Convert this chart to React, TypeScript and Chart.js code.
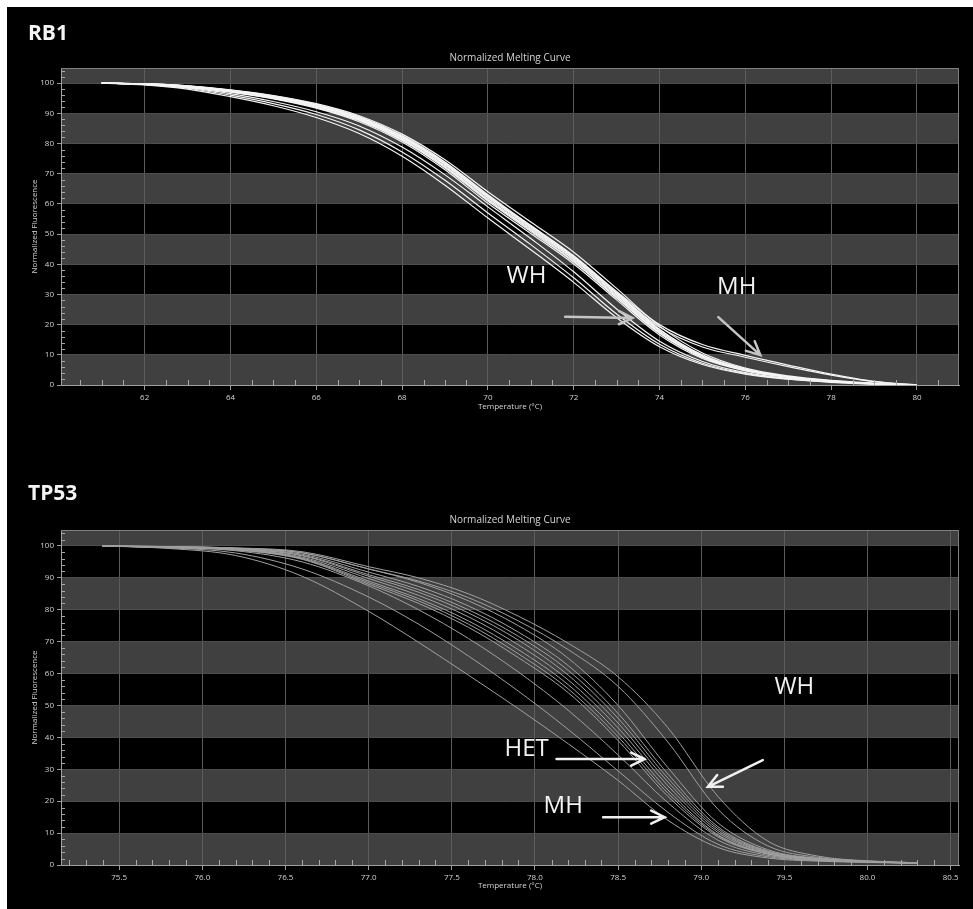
import React, { useEffect, useRef } from 'react';
import { Chart, registerables } from 'chart.js';

Chart.register(...registerables);

// ---------------- DATA ----------------
// RB1 panel
const rb1Temps = [61, 62, 63, 64, 65, 66, 67, 68, 69, 70, 71, 72, 73, 74, 75, 76, 77, 78, 79, 80];
const rb1Bundle1 = [100, 99.7, 98.8, 97.3, 95.2, 92.3, 88.0, 81.5, 72.5, 61.5, 51.5, 41.5, 29.5, 17.5, 9.4, 5.0, 2.7, 1.3, 0.5, 0];
const rb1Bundle2 = [100, 99.8, 99.0, 97.6, 95.6, 92.8, 88.6, 82.3, 73.6, 62.8, 52.8, 42.8, 30.8, 18.5, 10.0, 5.3, 2.8, 1.4, 0.5, 0];
const rb1Bundle3 = [100, 99.6, 98.6, 97.0, 94.8, 91.7, 87.2, 80.5, 71.3, 60.2, 50.2, 40.1, 28.2, 16.6, 8.8, 4.7, 2.5, 1.2, 0.4, 0];
const rb1Bundle4 = [100, 99.8, 99.1, 97.8, 95.9, 93.2, 89.2, 83.1, 74.6, 64.0, 54.0, 44.0, 32.0, 19.5, 10.6, 5.6, 3.0, 1.5, 0.6, 0];
const rb1Bundle5 = [100, 99.7, 98.9, 97.4, 95.3, 92.4, 88.2, 81.8, 72.9, 62.0, 51.9, 41.8, 29.9, 17.9, 9.6, 5.1, 2.7, 1.3, 0.5, 0];
const rb1Bundle6 = [100, 99.6, 98.7, 97.1, 94.9, 91.9, 87.6, 81.0, 71.9, 60.9, 50.8, 40.7, 28.8, 17.1, 9.1, 4.8, 2.6, 1.2, 0.4, 0];
const rb1Bundle7 = [100, 99.8, 99.0, 97.5, 95.5, 92.6, 88.4, 82.0, 73.2, 62.4, 52.3, 42.2, 30.3, 18.2, 9.8, 5.2, 2.8, 1.4, 0.5, 0];
const rb1Bundle8 = [100, 99.7, 98.8, 97.2, 95.0, 92.0, 87.8, 81.2, 72.2, 61.2, 51.2, 41.0, 29.1, 17.3, 9.2, 4.9, 2.6, 1.3, 0.5, 0];
const rb1Wh1 = [100, 99.5, 98.3, 96.0, 93.2, 89.6, 84.5, 77.2, 67.8, 57.0, 46.5, 35.5, 23.5, 13.5, 7.2, 3.8, 2.0, 1.0, 0.4, 0];
const rb1Wh2 = [100, 99.4, 98.0, 95.5, 92.5, 88.6, 83.3, 75.8, 66.2, 55.3, 44.8, 34.0, 22.3, 12.7, 6.8, 3.6, 1.9, 0.9, 0.3, 0];
const rb1Wh3 = [100, 99.6, 98.5, 96.5, 93.9, 90.5, 85.8, 78.8, 69.6, 59.0, 48.5, 37.5, 25.2, 14.5, 7.8, 4.1, 2.2, 1.1, 0.4, 0];
const rb1Mh1 = [100, 99.8, 99.1, 97.7, 95.8, 93.0, 88.9, 82.6, 73.9, 63.0, 52.8, 42.6, 31.0, 20.0, 13.4, 9.8, 6.6, 3.6, 1.2, 0];
const rb1Mh2 = [100, 99.7, 98.9, 97.5, 95.4, 92.6, 88.5, 82.1, 73.3, 62.5, 52.4, 42.3, 30.5, 19.2, 12.6, 9.2, 6.1, 3.3, 1.1, 0];
const rb1XTicks = [62, 64, 66, 68, 70, 72, 74, 76, 78, 80];

// TP53 panel
const tp53Temps = [75.4, 75.8, 76.2, 76.6, 77.0, 77.3, 77.6, 77.9, 78.2, 78.5, 78.8, 79.1, 79.4, 79.7, 80.0, 80.3];
const tp53Mh1 = [100, 99.2, 97.0, 90.5, 79.5, 69.8, 59.5, 49.0, 38.0, 26.5, 14.0, 5.5, 2.2, 1.2, 0.8, 0.5];
const tp53Mh2 = [100, 99.4, 97.8, 92.8, 84.0, 75.5, 65.5, 54.5, 42.5, 29.5, 16.5, 6.5, 2.6, 1.4, 0.9, 0.6];
const tp53Mid = [100, 99.5, 98.5, 95.0, 87.5, 80.0, 71.0, 60.5, 48.5, 34.5, 19.5, 7.8, 3.0, 1.5, 0.9, 0.6];
const tp53Het1 = [100, 99.6, 98.9, 96.2, 89.0, 83.5, 76.5, 67.5, 56.5, 41.5, 23.5, 9.5, 3.6, 1.7, 1.0, 0.6];
const tp53Het2 = [100, 99.7, 99.1, 96.9, 90.5, 85.5, 79.0, 70.5, 59.5, 44.5, 26.0, 10.8, 4.0, 1.9, 1.1, 0.6];
const tp53Het3 = [100, 99.5, 98.7, 95.8, 88.0, 82.0, 74.5, 65.0, 54.0, 39.0, 21.5, 8.8, 3.4, 1.6, 1.0, 0.6];
const tp53Het4 = [100, 99.7, 99.2, 97.4, 91.8, 87.3, 81.2, 73.0, 62.5, 47.5, 28.5, 12.0, 4.4, 2.0, 1.1, 0.6];
const tp53Het5 = [100, 99.6, 99.0, 96.5, 89.8, 84.5, 77.8, 69.0, 58.0, 43.0, 24.8, 10.2, 3.8, 1.8, 1.0, 0.6];
const tp53Het6 = [100, 99.7, 99.1, 97.1, 91.0, 86.3, 80.0, 71.7, 61.0, 46.0, 27.2, 11.4, 4.2, 1.9, 1.1, 0.6];
const tp53Het7 = [100, 99.5, 98.8, 96.0, 88.5, 82.8, 75.5, 66.2, 55.2, 40.2, 22.5, 9.2, 3.5, 1.7, 1.0, 0.6];
const tp53Het8 = [100, 99.8, 99.3, 97.8, 92.8, 88.6, 82.8, 75.0, 64.8, 50.0, 30.5, 13.2, 4.8, 2.1, 1.2, 0.7];
const tp53Wh1 = [100, 99.8, 99.4, 98.2, 93.5, 90.0, 85.0, 78.0, 69.5, 59.0, 43.0, 21.5, 7.5, 2.8, 1.3, 0.7];
const tp53Wh2 = [100, 99.8, 99.3, 97.9, 92.8, 89.0, 83.8, 76.5, 67.5, 56.0, 38.5, 17.5, 6.0, 2.4, 1.2, 0.7];
const tp53XTicks = [75.5, 76.0, 76.5, 77.0, 77.5, 78.0, 78.5, 79.0, 79.5, 80.0, 80.5];

const yTicks = [0, 10, 20, 30, 40, 50, 60, 70, 80, 90, 100];
const bandStarts = [0, 20, 40, 60, 80, 100];

// annotations (in data coordinates)
const rb1Notes = [
  { text: 'WH', x: 70.9, y: 36.1 },
  { text: 'MH', x: 75.8, y: 32.4 },
];
const rb1Arrows = [
  { x1: 71.8, y1: 22.6, x2: 73.37, y2: 22.2 },
  { x1: 75.37, y1: 22.5, x2: 76.35, y2: 9.9 },
];
const tp53Notes = [
  { text: 'WH', x: 79.56, y: 55.8 },
  { text: 'HET', x: 77.95, y: 36.4 },
  { text: 'MH', x: 78.17, y: 18.5 },
];
const tp53Arrows = [
  { x1: 79.37, y1: 32.9, x2: 79.04, y2: 24.5 },
  { x1: 78.13, y1: 33.2, x2: 78.66, y2: 33.2 },
  { x1: 78.41, y1: 15.0, x2: 78.78, y2: 15.0 },
];

// ---------------- STYLE ----------------
const FONT = '"Open Sans", "DejaVu Sans", sans-serif';
const BAND = '#404040';
const TEXT = '#d4d4d4';

type Note = { text: string; x: number; y: number };
type Arrow = { x1: number; y1: number; x2: number; y2: number };
type Spec = {
  name: string;
  temps: number[];
  curves: number[][];
  color: string;
  lineWidth: number;
  xMin: number;
  xMax: number;
  xTicks: number[];
  xDecimals: number;
  xMinorStep: number;
  notes: Note[];
  arrows: Arrow[];
  arrowColor: string;
  height: number;
  areaTop: number;
  areaBottom: number;
  xTitlePad: number;
  labelBaseline: number;
};

function panelPlugin(spec: Spec) {
  return {
    id: 'panel_' + spec.name,
    beforeDraw(chart: any) {
      const { ctx, chartArea: a } = chart;
      const y = chart.scales.y;
      ctx.save();
      ctx.fillStyle = '#000';
      ctx.fillRect(0, 0, chart.width, chart.height);
      ctx.fillStyle = BAND;
      for (const lo of bandStarts) {
        const hi = Math.min(lo + 10, y.max);
        const t = y.getPixelForValue(hi);
        const b = y.getPixelForValue(lo);
        ctx.fillRect(a.left, t, a.right - a.left, b - t);
      }
      ctx.restore();
    },
    afterDraw(chart: any) {
      const { ctx, chartArea: a } = chart;
      const x = chart.scales.x;
      const y = chart.scales.y;
      ctx.save();
      // frame top/right
      ctx.strokeStyle = '#808080';
      ctx.lineWidth = 1;
      ctx.beginPath();
      ctx.moveTo(a.left, a.top + 0.5);
      ctx.lineTo(a.right - 0.5, a.top + 0.5);
      ctx.lineTo(a.right - 0.5, a.bottom);
      ctx.stroke();
      // minor ticks
      ctx.strokeStyle = '#a8a8a8';
      ctx.beginPath();
      const step = spec.xMinorStep;
      for (let k = Math.ceil(spec.xMin / step); k * step <= spec.xMax; k++) {
        const v = k * step;
        if (spec.xTicks.some((t) => Math.abs(t - v) < step / 10)) continue;
        const px = Math.round(x.getPixelForValue(v)) + 0.5;
        ctx.moveTo(px, a.bottom);
        ctx.lineTo(px, a.bottom - 5);
      }
      for (let v = 2; v < y.max; v += 2) {
        if (v % 10 === 0) continue;
        const py = Math.round(y.getPixelForValue(v)) + 0.5;
        ctx.moveTo(a.left, py);
        ctx.lineTo(a.left + 4, py);
      }
      ctx.stroke();
      // chart title
      ctx.fillStyle = TEXT;
      ctx.font = `10px ${FONT}`;
      ctx.textAlign = 'center';
      ctx.textBaseline = 'middle';
      ctx.fillText('Normalized Melting Curve', (a.left + a.right) / 2, a.top - 10);
      // panel name
      ctx.fillStyle = '#f4f4f4';
      ctx.font = `bold 21px ${FONT}`;
      ctx.textAlign = 'left';
      ctx.textBaseline = 'alphabetic';
      ctx.fillText(spec.name, 21, spec.labelBaseline);
      // annotations
      ctx.font = `24px ${FONT}`;
      ctx.textAlign = 'center';
      ctx.textBaseline = 'middle';
      ctx.fillStyle = '#f2f2f2';
      for (const n of spec.notes) {
        ctx.fillText(n.text, x.getPixelForValue(n.x), y.getPixelForValue(n.y));
      }
      ctx.strokeStyle = spec.arrowColor;
      ctx.lineWidth = 2.5;
      ctx.lineCap = 'round';
      for (const r of spec.arrows) {
        const x1 = x.getPixelForValue(r.x1);
        const y1 = y.getPixelForValue(r.y1);
        const x2 = x.getPixelForValue(r.x2);
        const y2 = y.getPixelForValue(r.y2);
        const ang = Math.atan2(y2 - y1, x2 - x1);
        const hl = 15;
        const sp = 0.45;
        ctx.beginPath();
        ctx.moveTo(x1, y1);
        ctx.lineTo(x2, y2);
        ctx.moveTo(x2 - hl * Math.cos(ang - sp), y2 - hl * Math.sin(ang - sp));
        ctx.lineTo(x2, y2);
        ctx.lineTo(x2 - hl * Math.cos(ang + sp), y2 - hl * Math.sin(ang + sp));
        ctx.stroke();
      }
      ctx.restore();
    },
  };
}

function Panel({ spec, top }: { spec: Spec; top: number }) {
  const ref = useRef<HTMLCanvasElement>(null);
  useEffect(() => {
    if (!ref.current) return;
    const W = 966;
    const chart = new Chart(ref.current, {
      type: 'line',
      data: {
        datasets: spec.curves.map((c) => ({
          data: spec.temps.map((t, i) => ({ x: t, y: c[i] })),
          borderColor: spec.color,
          borderWidth: spec.lineWidth,
          pointRadius: 0,
          fill: false,
          cubicInterpolationMode: 'monotone' as const,
        })),
      },
      options: {
        animation: false,
        responsive: false,
        events: [],
        layout: { padding: { left: 0, right: W - 952, top: spec.areaTop, bottom: 0 } },
        plugins: {
          legend: { display: false },
          title: { display: false },
          tooltip: { enabled: false },
        },
        scales: {
          x: {
            type: 'linear',
            min: spec.xMin,
            max: spec.xMax,
            afterBuildTicks: (s: any) => {
              s.ticks = spec.xTicks.map((v) => ({ value: v }));
            },
            afterFit: (s: any) => {
              s.height = spec.height - spec.areaBottom;
            },
            ticks: {
              color: TEXT,
              font: { family: FONT, size: 8 },
              padding: 3,
              maxRotation: 0,
              autoSkip: false,
              callback: (v: any) => Number(v).toFixed(spec.xDecimals),
            },
            grid: { color: '#5c5c5c', tickColor: '#9a9a9a', tickLength: 5, lineWidth: 1 },
            border: { color: '#a0a0a0', width: 1 },
            title: {
              display: true,
              text: 'Temperature (°C)',
              color: TEXT,
              font: { family: FONT, size: 8 },
              padding: { top: 0, bottom: spec.xTitlePad },
            },
          },
          y: {
            type: 'linear',
            min: 0,
            max: 105,
            afterBuildTicks: (s: any) => {
              s.ticks = yTicks.map((v) => ({ value: v }));
            },
            afterFit: (s: any) => {
              s.width = 54;
            },
            ticks: {
              color: TEXT,
              font: { family: FONT, size: 8 },
              padding: 3,
              autoSkip: false,
            },
            grid: { color: '#4e4e4e', tickColor: '#9a9a9a', tickLength: 4, lineWidth: 1 },
            border: { color: '#a0a0a0', width: 1 },
            title: {
              display: true,
              text: 'Normalized Fluorescence',
              color: TEXT,
              font: { family: FONT, size: 8 },
              padding: { top: 23, bottom: 0 },
            },
          },
        },
      } as any,
      plugins: [panelPlugin(spec)],
    });
    return () => chart.destroy();
  }, [spec]);
  return (
    <canvas
      ref={ref}
      width={966}
      height={spec.height}
      style={{ position: 'absolute', left: 0, top, width: 966, height: spec.height, display: 'block' }}
    />
  );
}

const rb1Spec: Spec = {
  name: 'RB1',
  temps: rb1Temps,
  curves: [rb1Wh1, rb1Wh2, rb1Wh3, rb1Bundle1, rb1Bundle2, rb1Bundle3, rb1Bundle4, rb1Bundle5, rb1Bundle6, rb1Bundle7, rb1Bundle8, rb1Mh1, rb1Mh2],
  color: '#f4f4f4',
  lineWidth: 1.2,
  xMin: 60.05,
  xMax: 80.98,
  xTicks: rb1XTicks,
  xDecimals: 0,
  xMinorStep: 0.5,
  notes: rb1Notes,
  arrows: rb1Arrows,
  arrowColor: '#c4c4c4',
  height: 420,
  areaTop: 61,
  areaBottom: 378,
  xTitlePad: 15,
  labelBaseline: 33,
};

const tp53Spec: Spec = {
  name: 'TP53',
  temps: tp53Temps,
  curves: [tp53Mh1, tp53Mh2, tp53Mid, tp53Het1, tp53Het2, tp53Het3, tp53Het4, tp53Het5, tp53Het6, tp53Het7, tp53Het8, tp53Wh1, tp53Wh2],
  color: '#a0a0a0',
  lineWidth: 1,
  xMin: 75.15,
  xMax: 80.55,
  xTicks: tp53XTicks,
  xDecimals: 1,
  xMinorStep: 0.1,
  notes: tp53Notes,
  arrows: tp53Arrows,
  arrowColor: '#f0f0f0',
  height: 452,
  areaTop: 73,
  areaBottom: 408,
  xTitlePad: 18,
  labelBaseline: 43,
};

export default function App() {
  return (
    <div
      style={{
        position: 'absolute',
        left: 7,
        top: 7,
        width: 966,
        height: 902,
        background: '#000',
        overflow: 'hidden',
      }}
    >
      <Panel spec={rb1Spec} top={0} />
      <Panel spec={tp53Spec} top={450} />
    </div>
  );
}
